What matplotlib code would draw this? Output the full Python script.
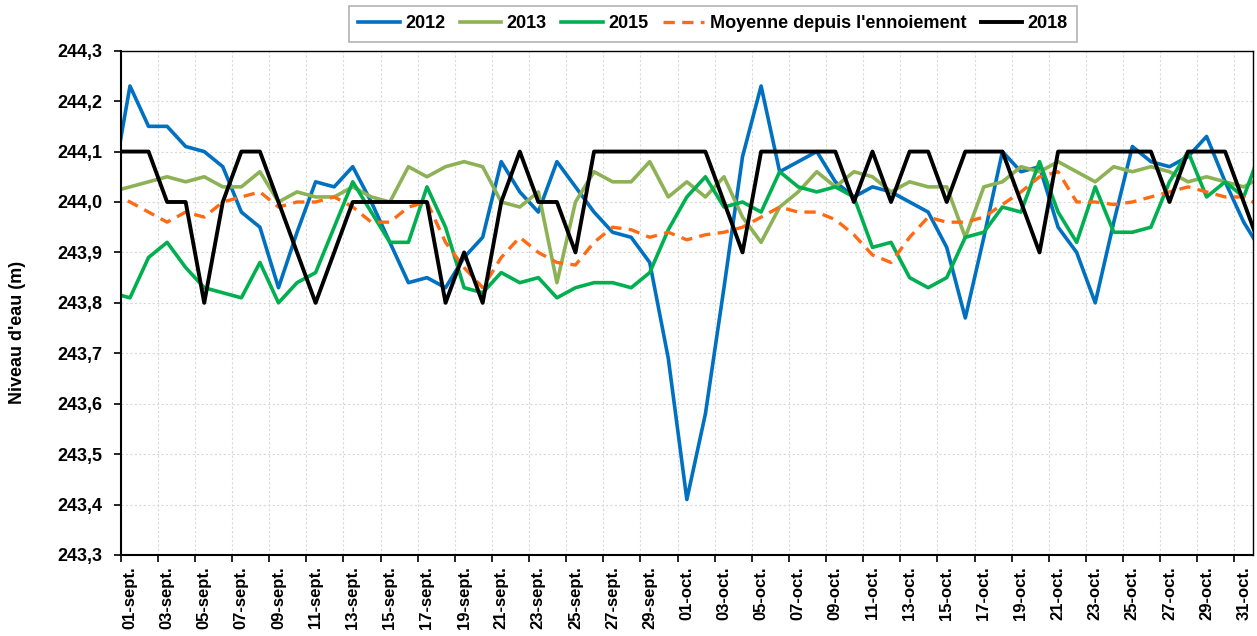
import matplotlib
matplotlib.use("Agg")
import matplotlib.pyplot as plt
import numpy as np
import pandas as pd

plt.rcParams['font.family'] = ['Liberation Sans', 'DejaVu Sans']
plt.rcParams['font.weight'] = 'bold'

# daily water level, 31 aug -> 01 nov (axis shows 01-sept .. 31-oct)
days = pd.date_range('2018-08-31', '2018-11-01', freq='D')

y2012 = [244.02, 244.23, 244.15, 244.15, 244.11, 244.10, 244.07, 243.98, 243.95, 243.83,
         243.94, 244.04, 244.03, 244.07, 244.00, 243.92, 243.84, 243.85, 243.83, 243.89,
         243.93, 244.08, 244.02, 243.98, 244.08, 244.03, 243.98, 243.94, 243.93, 243.88,
         243.69, 243.41, 243.58, 243.83, 244.09, 244.23, 244.06, 244.08, 244.10, 244.04,
         244.01, 244.03, 244.02, 244.00, 243.98, 243.91, 243.77, 243.93, 244.10, 244.06,
         244.07, 243.95, 243.90, 243.80, 243.96, 244.11, 244.08, 244.07, 244.09, 244.13,
         244.04, 243.96, 243.90]
y2013 = [244.02, 244.03, 244.04, 244.05, 244.04, 244.05, 244.03, 244.03, 244.06, 244.00,
         244.02, 244.01, 244.01, 244.03, 244.01, 244.00, 244.07, 244.05, 244.07, 244.08,
         244.07, 244.00, 243.99, 244.02, 243.84, 244.00, 244.06, 244.04, 244.04, 244.08,
         244.01, 244.04, 244.01, 244.05, 243.97, 243.92, 243.99, 244.02, 244.06, 244.03,
         244.06, 244.05, 244.02, 244.04, 244.03, 244.03, 243.93, 244.03, 244.04, 244.07,
         244.06, 244.08, 244.06, 244.04, 244.07, 244.06, 244.07, 244.06, 244.04, 244.05,
         244.04, 244.03, 244.05]
y2015 = [243.82, 243.81, 243.89, 243.92, 243.87, 243.83, 243.82, 243.81, 243.88, 243.80,
         243.84, 243.86, 243.95, 244.04, 243.98, 243.92, 243.92, 244.03, 243.95, 243.83,
         243.82, 243.86, 243.84, 243.85, 243.81, 243.83, 243.84, 243.84, 243.83, 243.86,
         243.945, 244.01, 244.05, 243.99, 244.00, 243.98, 244.06, 244.03, 244.02, 244.03,
         244.01, 243.91, 243.92, 243.85, 243.83, 243.85, 243.93, 243.94, 243.99, 243.98,
         244.08, 243.98, 243.92, 244.03, 243.94, 243.94, 243.95, 244.04, 244.10, 244.01,
         244.04, 244.01, 244.11]
ymoy = [244.02, 244.00, 243.98, 243.96, 243.98, 243.97, 244.00, 244.01, 244.02, 243.99,
        244.00, 244.00, 244.01, 243.99, 243.96, 243.96, 243.99, 244.00, 243.92, 243.87,
        243.83, 243.89, 243.93, 243.90, 243.88, 243.875, 243.92, 243.95, 243.945, 243.93,
        243.94, 243.925, 243.935, 243.94, 243.95, 243.97, 243.99, 243.98, 243.98, 243.965,
        243.935, 243.895, 243.88, 243.93, 243.97, 243.96, 243.96, 243.97, 243.995, 244.02,
        244.05, 244.06, 244.00, 244.00, 243.995, 244.00, 244.01, 244.02, 244.03, 244.02,
        244.01, 244.01, 243.99]
y2018 = [244.1, 244.1, 244.1, 244.0, 244.0, 243.8, 244.0, 244.1, 244.1, 244.0,
         243.9, 243.8, 243.9, 244.0, 244.0, 244.0, 244.0, 244.0, 243.8, 243.9,
         243.8, 244.0, 244.1, 244.0, 244.0, 243.9, 244.1, 244.1, 244.1, 244.1,
         244.1, 244.1, 244.1, 244.0, 243.9, 244.1, 244.1, 244.1, 244.1, 244.1,
         244.0, 244.1, 244.0, 244.1, 244.1, 244.0, 244.1, 244.1, 244.1, 244.0,
         243.9, 244.1, 244.1, 244.1, 244.1, 244.1, 244.1, 244.0, 244.1, 244.1,
         244.1, 244.0, 243.9]

months = {9: 'sept.', 10: 'oct.'}

fig = plt.figure(figsize=(12.57, 6.36), dpi=100)
ax = fig.add_axes([120.7/1257, 1-555/636, (1253-120.7)/1257, (555-50.7)/636])

x = np.arange(len(days)) - 0.5   # category centres, 01-sept -> 0.5

ax.plot(x, y2012, color='#0070C0', lw=2.6, label='2012')
ax.plot(x, y2013, color='#8DB255', lw=2.6, label='2013')
ax.plot(x, y2015, color='#00B050', lw=2.6, label='2015')
ax.plot(x, ymoy, color='#FF6A13', lw=2.4, dashes=(3.4, 2.2), label="Moyenne depuis l'ennoiement")
ax.plot(x, y2018, color='black', lw=2.8, label='2018')

ax.set_xlim(0, 61)
ax.set_ylim(243.3, 244.3)

# ticks at category boundaries every 2 days, labels centred on the day
shown = [d for d in days if d.month in months]
ax.set_xticks(np.arange(0, 61, 2))
ax.set_xticklabels([])
ax.set_xticks(np.arange(0, 61, 2) + 0.5, minor=True)
ax.set_xticklabels([f"{d.day:02d}-{months[d.month]}" for d in shown][::2], minor=True,
                   rotation=90, fontsize=12, fontweight='bold', va='top', ha='center')
ax.tick_params(axis='x', which='major', direction='out', length=5, width=1.2)
ax.tick_params(axis='x', which='minor', length=0, pad=8)

yt = np.round(np.arange(243.3, 244.31, 0.1), 1)
ax.set_yticks(yt)
ax.set_yticklabels([f"{v:.1f}".replace('.', ',') for v in yt], fontsize=13, fontweight='bold')
ax.tick_params(axis='y', direction='out', length=5, width=1.2, pad=8)

ax.grid(True, which='major', color='#d9d9d9', ls=(0, (2, 2)), lw=0.8)
ax.set_axisbelow(True)
for s in ax.spines.values():
    s.set_color('black')
    s.set_linewidth(1.0)
ax.spines['left'].set_linewidth(1.5)
ax.spines['bottom'].set_linewidth(1.5)

fig.text(18/1257, 1-332/636, "Niveau d'eau (m)", rotation=90, ha='center', va='center',
         fontsize=13, fontweight='bold')

leg = ax.legend(loc='center', bbox_to_anchor=(713/1257, 1-24/636), bbox_transform=fig.transFigure,
                ncol=5, frameon=True, fancybox=False, fontsize=13, handlelength=2.3,
                handletextpad=0.3, columnspacing=0.8, borderpad=0.5)
leg.get_frame().set_edgecolor('#a0a0a0')
leg.get_frame().set_linewidth(1.2)
for t in leg.get_texts():
    t.set_fontweight('bold')

fig.savefig('out.png', dpi=100)
